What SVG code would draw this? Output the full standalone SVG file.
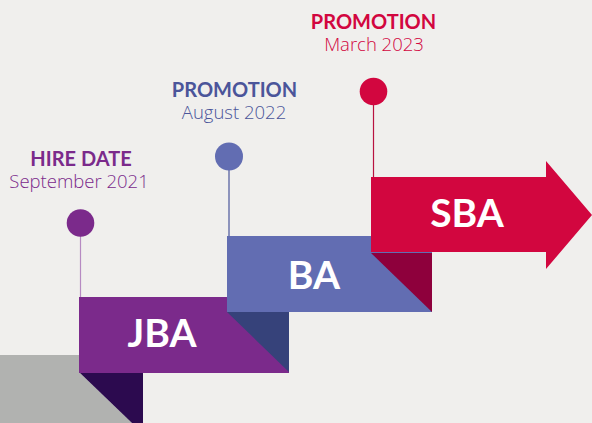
<svg xmlns="http://www.w3.org/2000/svg" width="592" height="423" viewBox="0 0 592 423">
<style>
.t{font-family:Lato,"Open Sans","Liberation Sans",sans-serif;font-weight:700;font-size:20px;text-anchor:middle}
.s{font-family:"Open Sans","Liberation Sans",sans-serif;font-weight:300;font-size:18.5px;text-anchor:middle}
.b{font-family:Lato,"Open Sans","Liberation Sans",sans-serif;font-weight:700;font-size:39px;fill:#ffffff;text-anchor:middle}
</style>
<rect width="592" height="423" fill="#f0efed"/>
<g id="base">
<polygon points="0,355 80,355 80,373 132,423 0,423" fill="#b1b2b0"/>
<polygon points="80,373 143,373 143,423 132,423" fill="#2c0a4f"/>
</g>
<g id="connectors">
<line x1="80.5" y1="230" x2="80.5" y2="297" stroke="#b68ac2" stroke-width="1.2"/>
<line x1="229" y1="165" x2="229" y2="236" stroke="#4b559a" stroke-width="1.2"/>
<line x1="373.5" y1="100" x2="373.5" y2="177" stroke="#b8123f" stroke-width="1.2"/>
</g>
<g id="jba">
<rect x="79" y="297" width="210" height="76" fill="#7b2a8b"/>
<text class="b" x="162" y="347">JBA</text>
</g>
<g id="jba-fold"><polygon points="227,312 289,312 289,372" fill="#36427a"/></g>
<g id="ba">
<rect x="227" y="236" width="205" height="76" fill="#626db2"/>
<text class="b" x="314" y="289">BA</text>
</g>
<g id="ba-fold"><polygon points="371,253 432,253 432,312" fill="#8e003c"/></g>
<g id="sba">
<polygon points="371,177 546,177 546,161 592,215 546,269 546,252 371,252" fill="#d2063f"/>
<text class="b" x="467" y="227">SBA</text>
</g>
<g id="hire">
<circle cx="80.5" cy="223" r="13.8" fill="#7b2a8b"/>
<text class="t" x="81" y="166" fill="#7b2a8b">HIRE DATE</text>
<text class="s" x="79" y="188" fill="#7b2a8b">September 2021</text>
</g>
<g id="promo1">
<circle cx="229" cy="156.5" r="14" fill="#626db2"/>
<text class="t" x="234.5" y="96.5" fill="#4b559a">PROMOTION</text>
<text class="s" x="234" y="118.5" fill="#4b559a">August 2022</text>
</g>
<g id="promo2">
<circle cx="373.5" cy="91.5" r="13.8" fill="#d2063f"/>
<text class="t" x="373.5" y="29" fill="#d2063f">PROMOTION</text>
<text class="s" x="374" y="51" fill="#d2063f">March 2023</text>
</g>
</svg>
